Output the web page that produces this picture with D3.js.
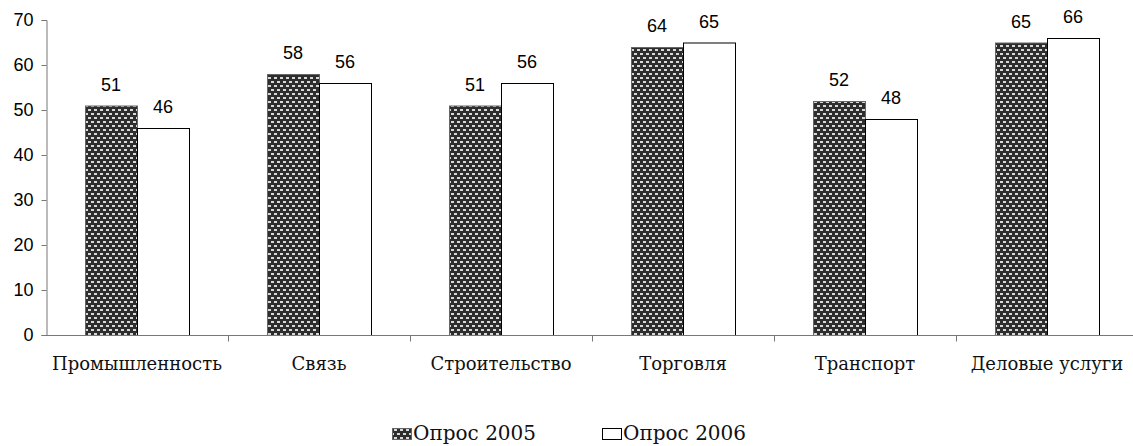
<!DOCTYPE html>
<html>
<head>
<meta charset="utf-8">
<script src="https://cdn.jsdelivr.net/npm/d3@7"></script>
<style>
  body { margin: 0; background: #fff; }
  svg { display: block; }
</style>
</head>
<body>
<div class="chart-area"><svg></svg></div>
<script>
const categories = ['Промышленность', 'Связь', 'Строительство', 'Торговля', 'Транспорт', 'Деловые услуги']
const series = ['Опрос 2005', 'Опрос 2006']
const values2005 = [51, 58, 51, 64, 52, 65]
const values2006 = [46, 56, 56, 65, 48, 66]
const yTicks = [0, 10, 20, 30, 40, 50, 60, 70]

const width = 1133
const height = 446
const margin = { left: 46, top: 20, bottom: 111 }

const svg = d3.select('.chart-area').select('svg')
  .attr('width', width)
  .attr('height', height)

// texture for the 2005 bars
const defs = svg.append('defs')
const pat = defs.append('pattern')
  .attr('id', 'dots')
  .attr('patternUnits', 'userSpaceOnUse')
  .attr('width', 6)
  .attr('height', 8)
pat.append('rect').attr('width', 6).attr('height', 8).attr('fill', '#2e2e2e')
pat.append('rect').attr('x', 1).attr('y', 1).attr('width', 3).attr('height', 2).attr('fill', '#d8d8d8')
pat.append('rect').attr('x', 4).attr('y', 5).attr('width', 3).attr('height', 2).attr('fill', '#d8d8d8')
pat.append('rect').attr('x', -2).attr('y', 5).attr('width', 3).attr('height', 2).attr('fill', '#d8d8d8')

const x = d3.scaleBand()
  .domain(categories)
  .range([margin.left, margin.left + 182 * categories.length])

const y = d3.scaleLinear()
  .domain([0, 70])
  .range([height - margin.bottom, margin.top])

const barW = 52
const rows = categories.map((c, i) => ({ cat: c, v: [values2005[i], values2006[i]] }))

const g = svg.append('g')

// bars
rows.forEach(r => {
  const cx = x(r.cat) + x.bandwidth() / 2
  r.v.forEach((v, j) => {
    const bx = j === 0 ? cx - barW : cx
    g.append('rect')
      .attr('x', bx + 0.5)
      .attr('y', y(v) + 0.5)
      .attr('width', barW)
      .attr('height', y(0) - y(v))
      .attr('fill', j === 0 ? 'url(#dots)' : '#fff')
      .attr('stroke', j === 0 ? '#666' : '#000')
      .attr('stroke-width', 1)
    g.append('text')
      .text(v)
      .attr('x', bx + barW / 2)
      .attr('y', y(v) - 15)
      .attr('text-anchor', 'middle')
      .attr('font-family', 'Liberation Sans, Arial, sans-serif')
      .attr('font-size', 18)
      .attr('fill', '#000')
  })
})

// y axis
const yAxis = g.append('g')
  .attr('transform', 'translate(' + (margin.left + 0.5) + ',0)')
  .call(d3.axisLeft(y).tickValues(yTicks).tickSize(5).tickPadding(8))
yAxis.selectAll('line, path').attr('stroke', '#777')
yAxis.selectAll('text')
  .attr('font-family', 'Liberation Sans, Arial, sans-serif')
  .attr('font-size', 18)
  .attr('fill', '#000')

// x axis
const xAxis = g.append('g')
  .attr('transform', 'translate(0,' + (y(0) + 0.5) + ')')
  .call(d3.axisBottom(x).tickSize(0).tickPadding(22))
xAxis.select('.domain').attr('stroke', '#777').attr('d', 'M' + (margin.left) + ',0H' + width)
xAxis.selectAll('text')
  .attr('font-family', 'DejaVu Serif, serif')
  .attr('font-size', 18)
  .attr('fill', '#111')

// boundary ticks between categories
xAxis.selectAll('.bound')
  .data(categories.slice(1))
  .enter().append('line')
  .attr('class', 'bound')
  .attr('x1', d => Math.round(x(d)) + 0.5)
  .attr('x2', d => Math.round(x(d)) + 0.5)
  .attr('y1', 0)
  .attr('y2', 6)
  .attr('stroke', '#777')

// legend
const legend = svg.append('g')
const legendX = [392, 602]
series.forEach((s, i) => {
  legend.append('rect')
    .attr('x', legendX[i] + 0.5)
    .attr('y', 428.5)
    .attr('width', 19)
    .attr('height', 11)
    .attr('fill', i === 0 ? 'url(#dots)' : '#fff')
    .attr('stroke', i === 0 ? '#666' : '#000')
  legend.append('text')
    .text(s)
    .attr('x', legendX[i] + 21)
    .attr('y', 440)
    .attr('font-family', 'DejaVu Serif, serif')
    .attr('font-size', 20)
    .attr('fill', '#111')
})
</script>
</body>
</html>
